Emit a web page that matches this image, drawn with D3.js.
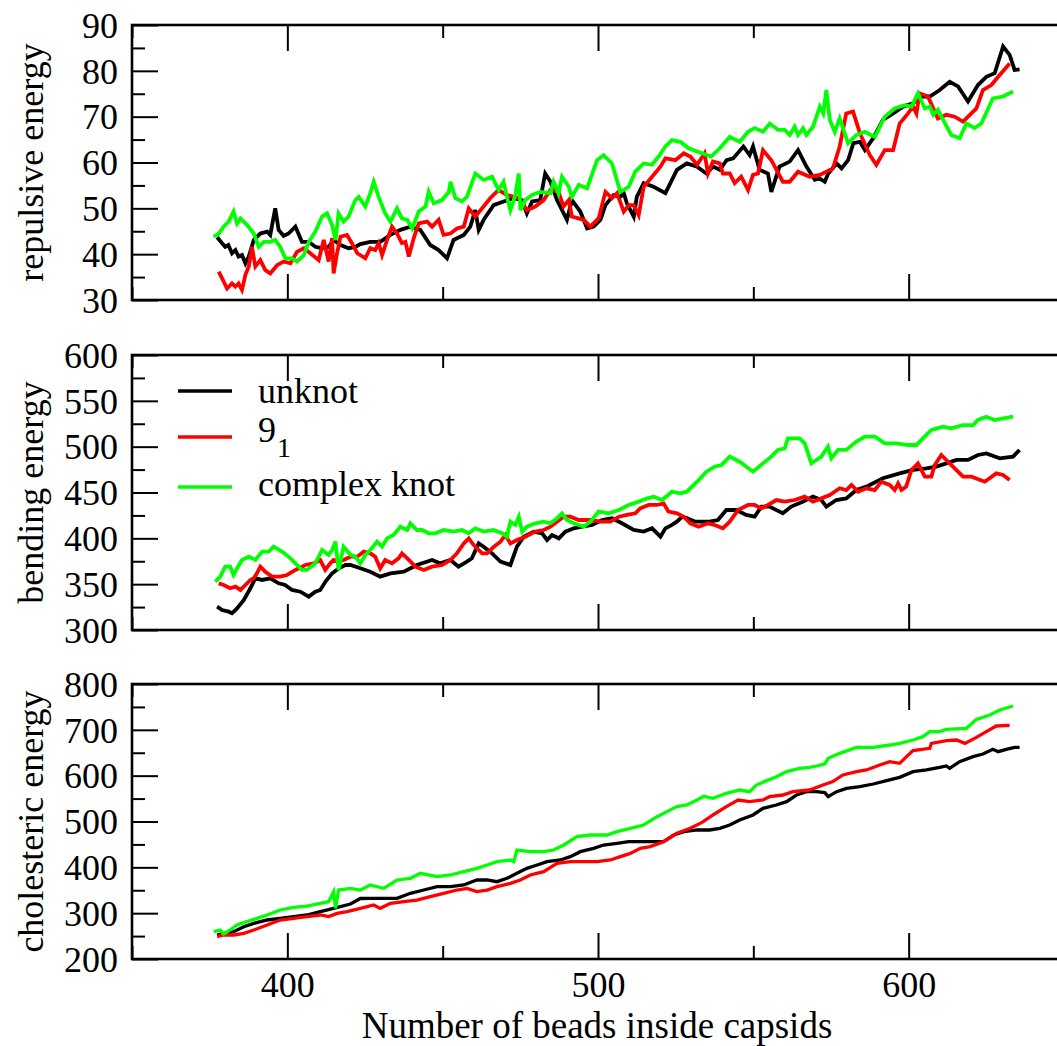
<!DOCTYPE html>
<html>
<head>
<meta charset="utf-8">
<script src="https://cdn.jsdelivr.net/npm/d3@7"></script>
<style>
  body { margin: 0; background: #fff; }
  svg { display: block; font-family: "Liberation Serif", "Times New Roman", serif; }
</style>
</head>
<body>
<svg id="chart" width="1057" height="1046"></svg>
<script>
// series, [beads, energy]
const repUnknot = [[377.4,43.7],[379,42.4],[380,41.6],[381,42.0],[382.2,40.2],[383.3,40.9],[384.3,39.5],[385.4,39.8],[386.5,38.0],[387.6,39.5],[389.2,43.1],[391.3,44.5],[393.5,44.9],[394.5,44.2],[396.1,50.0],[397.2,45.3],[398.8,44.0],[400.4,44.5],[402.6,46.0],[404.7,42.7],[406.9,42.7],[409,41.6],[411.2,41.3],[413.3,41.6],[414.9,43.1],[417.1,42.0],[419.7,41.3],[421.9,41.6],[423.5,42.2],[426.7,42.7],[429.9,42.7],[433.2,44.2],[436.4,45.3],[439.6,46],[442.8,45.3],[446,42.0],[448.7,40.9],[451.4,39.1],[453.5,43.1],[456.8,44.2],[458.9,46],[460.5,49.6],[461.6,45.3],[463.2,47.5],[466.4,50.7],[469.6,51.5],[472.9,52.2],[475.5,51.8],[477.1,48.9],[478.8,51.5],[481.4,51.8],[483.0,57.6],[484.7,55.8],[486.8,51.8],[490,47.5],[491.6,51.8],[494.3,49.3],[496.5,45.6],[498.6,46.0],[500.8,47.5],[502.4,50.7],[505.0,52.9],[507.2,52.5],[508.3,53.3],[509.3,51.1],[511.5,48.2],[512.5,52.5],[514.7,55.5],[517.9,54.7],[521.7,53.3],[525.4,58.4],[528.6,59.8],[531.9,59.1],[534.9,57.6],[537,59.1],[539.2,58.4],[541.4,60.5],[543.5,60.9],[546.8,63.5],[548.8,61.6],[549.9,63.5],[552.0,58.4],[554.7,57.6],[555.8,53.6],[558.4,59.1],[561.7,60.2],[564.4,62.7],[567.1,59.1],[569.8,56.2],[571.4,56.5],[573,55.8],[574.1,57.6],[576.8,59.8],[578.4,58.7],[580.5,60.5],[582.2,64.2],[584.3,64.5],[585.9,62.7],[588.6,65.3],[591.7,69.3],[595,70.7],[598.2,72.2],[601.4,72.9],[603.6,74.4],[606.8,74.4],[610.0,75.8],[613.2,77.6],[615.9,76.6],[619.1,73.3],[622.3,76.9],[625,78.7],[627.7,79.5],[630.4,85.3],[632.5,83.5],[634.1,80.2],[635.7,80.3]];
const repKnot91 = [[377.9,36.2],[379,34.7],[380.6,32.5],[382.2,33.6],[383.3,32.9],[384.3,33.6],[385.4,32.2],[386.5,35.5],[387.6,37.3],[388.6,41.6],[389.7,37.3],[391.3,38.7],[392.9,36.5],[394.5,35.8],[396.7,37.6],[398.8,38.4],[401,38],[403.1,40.5],[405.3,41.3],[407.4,40.2],[410.1,38.7],[411.7,43.1],[413.3,38.4],[414.4,43.5],[414.9,35.8],[416,40.2],[417.1,43.8],[419.2,44.2],[420.8,42.4],[422.5,40.2],[425.1,39.1],[426.7,41.3],[428.3,40.9],[429.4,42.4],[430.5,39.8],[432.1,43.1],[433.7,46],[435.3,44.5],[436.9,42.4],[438,42.7],[439.1,39.5],[440.7,43.5],[442.3,46.7],[445,47.1],[446.6,46],[448.7,47.5],[450.3,44.2],[452.5,44.5],[454.6,45.6],[456.8,46],[458.4,50],[460.5,48.2],[462.7,50],[465.3,52.2],[468,54],[470.7,52.9],[472.9,52.5],[474.5,52.2],[477.1,49.6],[479.8,50.4],[482.5,51.8],[484.7,54],[487.3,53.6],[488.9,50.4],[490.6,51.8],[491.6,48.2],[495.4,47.5],[497.5,46],[500.2,47.8],[502.4,53.6],[504.5,52.2],[506.1,53.3],[508.3,49.3],[509.9,50.7],[511.5,50.7],[513.1,48.5],[514.7,54.7],[517.4,56.9],[520.1,59.1],[521.7,60.9],[524.9,60.5],[527.6,62],[529.7,61.3],[531.9,59.5],[534.3,62],[535.4,57.6],[537,60.2],[539.2,59.8],[540.2,57.6],[542.4,57.6],[544,55.5],[546.1,56.9],[548.3,54],[549.9,57.3],[551.5,57.6],[553.1,62.7],[555.8,60.5],[559.5,55.8],[561.7,55.8],[564.4,58],[568.1,56.9],[571.4,57.3],[575.6,58.7],[577.8,63.5],[579.9,70.7],[582.1,71.1],[584.3,66.4],[587.5,61.6],[589.6,59.5],[592.3,62.7],[595,62.7],[597.1,68.5],[599.8,70.7],[601.4,72.2],[602.5,70.7],[603.5,75.1],[606.2,74.4],[609.4,69.6],[612.1,70.4],[614.8,70],[617.5,68.9],[621.8,71.8],[623.9,75.8],[626.6,76.9],[629.3,79.1],[632.5,81.6]];
const repComplex = [[376.3,43.8],[377.9,44.5],[379.5,46],[381.1,47.1],[382.7,49.3],[383.8,46.7],[384.9,47.8],[387,46.4],[389.2,44.5],[390.8,41.6],[392.4,42.7],[394.5,42.7],[396.1,43.1],[397.7,41.6],[399.4,39.1],[401.5,39.1],[403.1,38.4],[405.3,39.8],[406.9,42.7],[409,44.9],[411.2,48.2],[412.8,48.9],[414.4,46.4],[415.5,43.1],[416.5,48.9],[418.1,47.1],[419.7,48.2],[421.9,51.8],[423,52.5],[425.1,50.4],[426.7,53.3],[427.8,55.8],[429.4,52.5],[431.5,48.9],[433.2,47.1],[435.3,50],[436.9,47.8],[438.6,47.5],[440.2,45.6],[442.3,49.3],[444.5,50.4],[445.5,53.6],[447.1,51.1],[449.8,51.8],[452,53.6],[452.5,55.8],[454.1,52.2],[456.2,51.5],[457.8,52.5],[460.5,57.6],[463.2,56.2],[465.9,56.9],[468,54],[469.6,55.8],[470.7,52.5],[471.8,49.6],[473.4,52.9],[474.5,57.6],[475,49.6],[476.6,51.8],[478.8,52.9],[481.4,53.6],[484.7,53.3],[485.7,55.8],[487.3,53.3],[488.4,56.9],[490.6,54.7],[491.6,52.5],[493.8,55.1],[496.5,54.4],[499.7,60.5],[501.8,61.6],[504.5,59.8],[507.2,53.6],[509.9,54.7],[512,58],[514.7,59.8],[517.4,59.5],[519.5,61.3],[521.7,63.5],[523.8,64.9],[526.5,64.5],[529.2,63.1],[531.9,62.4],[536.4,61.3],[539.2,63.1],[542.4,65.6],[545.6,64.5],[548.3,66.7],[550.4,67.5],[553.1,66.7],[555.3,68.5],[558,67.1],[560.1,67.1],[561.7,66],[563.3,67.8],[564.4,66],[566,67.5],[567.1,66],[569.2,67.8],[571.4,72.2],[572.5,70.7],[573.5,75.8],[574.6,69.3],[576.2,66.7],[577.8,69.6],[580.5,64.2],[583.2,66],[585.9,66.7],[589.1,65.6],[592.3,70],[595.5,71.8],[598.7,72.5],[600.9,72.2],[603,75.1],[605.2,71.8],[606.8,72.2],[607.9,70.4],[609.4,71.5],[611.1,69.3],[613.7,66],[616.4,65.3],[618.6,68.5],[621.2,67.5],[623.4,68.5],[627.1,74],[630.4,74.4],[633.6,75.5]];

const bendUnknot = [[377.4,325.5],[379,321.8],[381.1,320],[382.2,318.2],[383.8,323.6],[386,332.8],[388.1,345.5],[389.7,356.4],[391.9,354.6],[394.5,356.4],[397.2,350.9],[399.3,349.1],[401.5,343.7],[404.2,341.8],[406.9,336.4],[409,341.8],[410.6,343.7],[412.3,352.8],[414.4,361.8],[416.6,367.3],[418.7,370.9],[420.3,370.9],[423.5,367.3],[426.7,363.6],[429.9,358.2],[433.2,361.8],[437.5,363.6],[441.7,370.9],[446.6,376.4],[449.2,372.7],[452.5,376.4],[455.1,369.1],[457.8,374.6],[459.4,378.2],[461.6,394.5],[463.2,390.9],[465.9,383.6],[468.6,374.6],[471.8,370.9],[473.9,390.9],[476.1,401.8],[479.3,407.3],[482,405.5],[483.6,398.2],[485.2,403.6],[487.4,400],[489.5,407.3],[492.2,410.9],[494.9,412.7],[498.1,414.6],[501.3,420],[504.5,421.8],[507.7,416.4],[511.5,409.1],[514.7,407.3],[517.4,410.9],[520.1,401.8],[521.7,410.9],[523.8,414.6],[525.4,418.2],[527.1,423.6],[528.7,421.8],[531.4,418.2],[535.9,418.2],[538.6,420],[541.3,430.9],[544.5,430.9],[547.7,425.5],[550.4,423.6],[552.6,434.6],[555.2,434.6],[559.5,427.3],[562.2,434.6],[565.9,440],[569.2,445.5],[571.9,441.8],[573.5,434.6],[576.7,441.8],[579.9,443.6],[583.2,452.7],[586.4,456.4],[591.7,465.5],[597.1,470.9],[601.4,474.6],[605.7,476.4],[608.9,478.2],[612.1,481.8],[615.4,485.5],[619.1,485.5],[622.3,490.9],[625,492.7],[629.3,487.3],[633.6,489.1],[635.7,496.4]];
const bendKnot91 = [[377.9,350.9],[379.5,349.1],[381.6,345.5],[383.3,347.3],[384.9,343.7],[386.5,349.1],[388.1,354.6],[389.2,356.4],[390.2,361.8],[391.3,369.1],[392.9,363.6],[395.1,358.2],[397.7,358.2],[399.9,360],[402.6,365.5],[405.8,370.9],[408.5,372.7],[410.6,376.4],[412.2,365.5],[413.8,372.7],[414.9,376.4],[416.5,374.6],[418.1,376.4],[420.3,380],[422.5,380],[424.6,385.5],[426.7,383.6],[428.3,380],[429.9,367.3],[431.5,376.4],[433.7,372.7],[435.8,378.2],[436.9,383.6],[439.1,376.4],[441.2,369.1],[443.9,365.5],[446.6,369.1],[449.8,370.9],[452.5,376.4],[454.6,383.6],[456.8,394.5],[458.4,400],[460,392.7],[462.7,383.6],[464.3,383.6],[466.5,390.9],[468.6,396.4],[470.2,403.6],[471.8,394.5],[473.9,398.2],[476.6,401.8],[479.8,407.3],[482.5,409.1],[484.7,412.7],[486.8,418.2],[489,423.6],[491.1,423.6],[493.8,420],[497.5,420],[500.8,418.2],[504,418.2],[506.7,423.6],[509.3,425.5],[512,427.3],[513.6,432.7],[516.3,436.4],[519,436.4],[521.1,438.2],[522.7,429.1],[525.4,427.3],[527.6,423.6],[529.7,416.4],[532.4,412.7],[535.4,416.4],[537.5,414.6],[540.2,410.9],[542.4,418.2],[545.1,430.9],[548.3,436.4],[550.4,436.4],[552.6,432.7],[554.7,436.4],[557.4,441.8],[560.1,440],[563.3,441.8],[566.5,445.5],[569.2,440],[571.9,443.6],[574.6,447.3],[577.8,454.6],[579.9,452.7],[581.6,458.2],[583.7,450.9],[586.4,454.6],[589.1,452.7],[591.2,461.8],[593.9,458.2],[595.5,452.7],[596.6,460],[597.7,452.7],[599.2,456.4],[600.9,474.6],[603,481.8],[605.2,467.3],[607.3,467.3],[608.4,480],[610.5,490.9],[613.2,481.8],[617.5,467.3],[620.2,467.3],[624.5,461.8],[628.2,470.9],[630.4,469.1],[632.5,463.6]];
const bendComplex = [[376.8,352.8],[378.4,358.2],[380,369.1],[381.6,369.1],[382.7,360],[383.8,367.3],[385.4,376.4],[387.6,380],[389.7,376.4],[391.9,385.5],[394,385.5],[395.6,390.9],[398.3,385.5],[401,378.2],[404.7,365.5],[406.3,365.5],[409,372.7],[411.2,387.3],[413.3,381.8],[414.4,387.3],[415.5,396.4],[416.5,365.5],[418.1,390.9],[420.3,382],[421.9,380],[423.5,372.7],[425.1,381.8],[426.7,387.3],[428.9,396.4],[430.5,390.9],[432.1,400],[434.2,403.6],[436.4,412.7],[438.6,409.1],[439.6,416.4],[441.7,409.1],[443.4,409.1],[445.5,405.5],[447.6,405.5],[450.3,409.1],[453.5,407.3],[456.2,409.1],[458.4,405.5],[460.5,410.9],[463.2,407.3],[466.4,409.1],[469.1,405.5],[470.7,401.8],[471.8,418.2],[473.4,414.6],[474.5,423.6],[475.6,407.3],[477.1,412.7],[479.8,416.4],[482.5,418.2],[484.7,416.4],[486.8,421.8],[488.4,427.3],[490,420],[492.2,416.4],[495.4,412.7],[497.5,418.2],[500.2,429.1],[503.4,427.3],[506.7,430.9],[509.9,436.4],[513.1,440],[515.8,443.6],[518,445.5],[520.6,441.8],[523.8,450.9],[526.5,449.1],[528.6,450.9],[531.9,461.8],[534.9,472.7],[537.5,478.2],[539.7,480],[542.4,489.1],[545.6,483.6],[549.9,472.7],[553.1,481.8],[555.8,489.1],[557.9,496.4],[560.1,498.2],[561.1,509.1],[564.9,509.1],[566.5,503.6],[568.7,481.8],[571.9,489.1],[574,500],[575.1,487.3],[577.3,496.4],[579.9,496.4],[583.2,505.5],[585.9,510.9],[589.1,510.9],[592.3,503.6],[596.1,503.6],[599.8,501.8],[602.5,501.8],[604.6,509.1],[607.3,518.2],[611.1,521.8],[613.7,520],[617.5,523.6],[620.7,523.6],[622.3,529.1],[625,532.7],[627.7,529.1],[630.4,530.9],[633.6,532.7]];

const cholUnknot = [[377.4,252.4],[379.5,256],[382.7,259.6],[386,270.5],[389.2,277.8],[393.5,285.1],[397.7,288.7],[402,292.4],[406.3,296],[410.6,303.3],[414.9,310.5],[420.3,320],[423.5,332],[426.7,332.4],[431,332.4],[435.3,332.4],[439.6,343.3],[443.9,350.5],[448.2,357.8],[452.5,357.8],[456.8,361.5],[461,372.4],[464.3,372.4],[467.5,368.7],[470.7,376],[473.9,386.9],[477.1,397.8],[480.4,405.1],[483.6,412.4],[487.9,416],[491.1,423.3],[494.3,434.2],[498.6,441.5],[501.8,448.7],[506.1,452.4],[509.9,456],[513.6,456],[517.4,456],[521.1,456],[524.4,470.5],[527.6,477.8],[531.9,481.5],[535.9,481.5],[539.2,485.1],[542.4,492.4],[545.6,503.3],[549.9,514.2],[553.1,528.7],[557.4,536],[560.7,543.3],[563.9,557.8],[567.1,565.1],[570.3,565.1],[573,562.9],[574.1,554.2],[576.8,565.1],[580,572.4],[584.3,576],[588.6,581.8],[592.9,589.1],[597.1,596.4],[601.4,608.7],[605.7,612.4],[610,618.2],[612.1,621.1],[613.2,616],[616.4,630.5],[620.7,641.5],[623.9,647.3],[627.1,657.5],[628.8,652.4],[631.4,657.5],[634.1,661.8],[635.7,661.8]];
const cholKnot91 = [[377.4,248.7],[379.5,252.4],[382.7,252.4],[386,256],[389.2,263.3],[393.5,274.2],[397.7,285.1],[402,288.7],[406.3,292.4],[410.6,296],[413.3,292.4],[416,299.6],[419.2,303.3],[423.5,310.5],[427.8,317.8],[429.9,310.5],[433.2,321.5],[437.5,325.1],[441.7,328.7],[446,336],[450.3,343.3],[454.6,350.5],[457.8,354.2],[461,346.9],[464.3,350.5],[467.5,357.8],[471.8,365.1],[475,372.4],[478.2,383.3],[482.5,390.5],[486.8,408.7],[491.1,412.4],[495.4,412.4],[499.7,412.4],[504,416],[507.2,423.3],[510.4,430.5],[513.6,441.5],[516.8,445.1],[521.1,456],[525.4,474.2],[529.7,485.1],[533.5,498],[537,514.2],[541.3,532.4],[545.1,546.9],[548.8,543.3],[553.1,546.9],[555.2,554.2],[559.5,557.8],[562.7,565.1],[568.1,568.7],[572.4,579.6],[575.6,587],[578.8,601.5],[583.2,608.7],[586.4,612.4],[590.7,623.3],[593.9,630.5],[597.1,626.9],[599.3,641.5],[601.4,654.6],[606.8,659.7],[607.3,670.5],[612.2,676.4],[615.4,677.8],[618.1,670.5],[621.8,683.6],[625,696],[628.2,708.4],[632.5,709.8]];
const cholComplex = [[376.3,259.6],[378.4,263.3],[379.5,254.5],[381.6,263.3],[383.8,274.2],[387,281.5],[390.2,288.7],[393.5,296],[397.7,306.9],[402,312.7],[406.3,315.6],[410.6,321.5],[413.3,325.1],[414.9,346.9],[415.5,310.5],[416.5,350.5],[420.3,354.2],[423.5,350.5],[426.7,361.5],[431,354.2],[435.3,372.4],[439.6,376],[442.8,386.9],[448.2,379.6],[452.5,383.3],[456.8,390.5],[461,397.8],[464.3,405.1],[467.5,412.4],[471.8,416],[472.9,412.4],[473.9,437.8],[478.2,434.2],[482.5,434.2],[485.7,437.8],[489,448.7],[493.2,466.9],[497.5,470.5],[502.9,470.5],[506.1,477.8],[510.4,485.1],[514.7,492.4],[519,510.5],[522.2,521.5],[525.4,532.4],[528.6,536],[531.9,546.9],[534,555],[537,550.5],[541.3,561.5],[545.6,568.7],[548.8,565.1],[551,579.6],[554.2,589.1],[557.4,597.8],[560.7,608.7],[564.9,616],[568.1,618.2],[570.3,621.1],[573,625.5],[574.1,637.8],[577.8,648.7],[583.2,661.8],[588.6,661.8],[594,666.9],[597.1,670.5],[601.4,677.8],[604.6,685.1],[606.8,696],[610,696],[612.1,701.1],[618.6,703.3],[621.8,722.9],[626.1,732.4],[629.3,743.3],[633.6,752]];

const xDomain = [350, 650];
const xMajor = [400, 500, 600];
const xMinor = [350, 450, 550, 650];
const seriesNames = ["unknot", "9", "complex knot"];
const colors = ["#000000", "#ff0000", "#00ff00"];

const panels = [
  {label: "repulsive energy", domain: [30, 90], major: d3.range(30, 91, 10), minor: d3.range(35, 90, 10), top: 25, bottom: 300, data: [repUnknot, repKnot91, repComplex]},
  {label: "bending energy", domain: [300, 600], major: d3.range(300, 601, 50), minor: d3.range(325, 600, 50), top: 355, bottom: 630, data: [bendUnknot, bendKnot91, bendComplex]},
  {label: "cholesteric energy", domain: [200, 800], major: d3.range(200, 801, 100), minor: d3.range(250, 800, 100), top: 684, bottom: 959, data: [cholUnknot, cholKnot91, cholComplex]}
];

const svg = d3.select("#chart");
const left = 132, right = 1064;
const x = d3.scaleLinear().domain(xDomain).range([left, right]);
const fontSize = 36;

panels.forEach((p, i) => {
  const y = d3.scaleLinear().domain(p.domain).range([p.bottom, p.top]);
  const g = svg.append("g");

  const clipId = "clip" + i;
  svg.append("clipPath").attr("id", clipId)
    .append("rect").attr("x", left).attr("y", p.top).attr("width", right - left).attr("height", p.bottom - p.top);

  const line = d3.line().x(d => x(d[0])).y(d => y(d[1]));
  const lines = g.append("g").attr("clip-path", `url(#${clipId})`);
  p.data.forEach((s, k) => {
    lines.append("path")
      .datum(s)
      .attr("fill", "none")
      .attr("stroke", colors[k])
      .attr("stroke-width", i === 2 ? 3.3 : 3.8)
      .attr("stroke-linejoin", "miter")
      .attr("d", line);
  });

  // inward ticks on all sides
  const addAxis = (axis, tx, ty) => {
    const a = g.append("g").attr("transform", `translate(${tx},${ty})`).call(axis);
    a.select(".domain").remove();
    a.selectAll("line").attr("stroke", "#000").attr("stroke-width", 2);
    a.selectAll("text").attr("font-family", "Liberation Serif, Times New Roman, serif")
      .attr("font-size", fontSize).attr("fill", "#000");
    return a;
  };
  addAxis(d3.axisLeft(y).tickValues(p.major).tickSizeInner(-26).tickSizeOuter(0).tickPadding(14).tickFormat(d3.format("d")), left, 0)
    .selectAll("text").attr("dy", "0.34em");
  addAxis(d3.axisLeft(y).tickValues(p.minor).tickSizeInner(-13).tickSizeOuter(0).tickFormat(""), left, 0);
  addAxis(d3.axisTop(x).tickValues(xMajor).tickSizeInner(-26).tickSizeOuter(0).tickFormat(""), 0, p.top);
  addAxis(d3.axisTop(x).tickValues(xMinor).tickSizeInner(-13).tickSizeOuter(0).tickFormat(""), 0, p.top);
  const bx = addAxis(d3.axisBottom(x).tickValues(xMajor).tickSizeInner(-26).tickSizeOuter(0).tickPadding(14)
    .tickFormat(i === 2 ? d3.format("d") : ""), 0, p.bottom);
  bx.selectAll("text").attr("dy", "0.68em");
  addAxis(d3.axisBottom(x).tickValues(xMinor).tickSizeInner(-13).tickSizeOuter(0).tickFormat(""), 0, p.bottom);

  g.append("rect")
    .attr("x", left).attr("y", p.top)
    .attr("width", right - left).attr("height", p.bottom - p.top)
    .attr("fill", "none").attr("stroke", "#000").attr("stroke-width", 2.6);

  g.append("text")
    .attr("transform", `translate(43,${(p.top + p.bottom) / 2}) rotate(-90)`)
    .attr("text-anchor", "middle")
    .attr("font-size", fontSize)
    .text(p.label);
});

svg.append("text")
  .attr("x", 597)
  .attr("y", 1038)
  .attr("text-anchor", "middle")
  .attr("font-size", 37)
  .text("Number of beads inside capsids");

// legend inside the bending panel
const legendY = [391, 437, 487];
const legendBase = [403, 442, 496];
const legend = svg.append("g");
seriesNames.forEach((name, k) => {
  legend.append("line")
    .attr("x1", 178).attr("x2", 232)
    .attr("y1", legendY[k]).attr("y2", legendY[k])
    .attr("stroke", colors[k]).attr("stroke-width", 3.4);
  const t = legend.append("text")
    .attr("x", 258).attr("y", legendBase[k])
    .attr("font-size", fontSize)
    .text(name);
  if (k === 1) {
    t.append("tspan").attr("font-size", 28).attr("dy", 15).attr("dx", 1).text("1");
  }
});
</script>
</body>
</html>
